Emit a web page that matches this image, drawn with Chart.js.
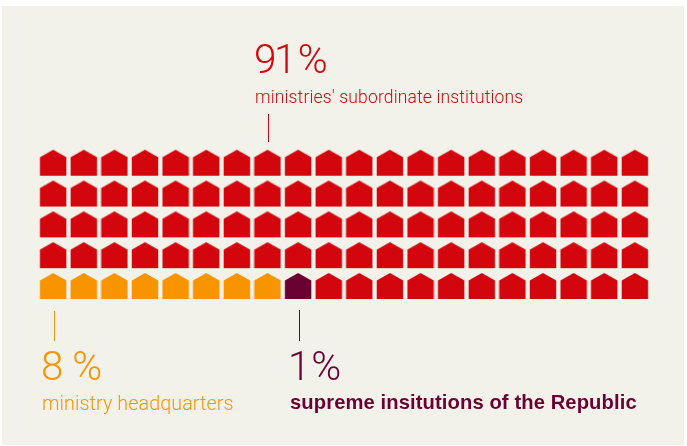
<!DOCTYPE html>
<html>
<head>
<meta charset="utf-8">
<title>Staff by type of institution</title>
<script src="https://cdn.jsdelivr.net/npm/chart.js@4/dist/chart.umd.min.js"></script>
<style>
  html, body { margin: 0; padding: 0; background: #fff; }
  #panel { position: absolute; left: 2px; top: 6px; width: 682px; height: 439px; background: #f3f2ea; }
  #wrap { position: absolute; left: 0; top: 0; width: 687px; height: 446px; }
</style>
</head>
<body>
<div id="panel"></div>
<div id="wrap"><canvas id="waffle"></canvas></div>
<script>
// Share of each institution type, in percent. One house stands for one percent.
const categories = ["ministries' subordinate institutions", "ministry headquarters", "supreme insitutions of the Republic"];
const shares = [91, 8, 1];
const shareLabels = ["91 %", "8 %", "1 %"];
const colors = ["#d2060c", "#f79400", "#6b0033"];

const COLUMNS = 20;
const ROWS = 5;
// Cells fill the bottom row first, left to right, in this category order
const fillOrder = [1, 2, 0];

// Build one set of grid cells per category
function buildCells() {
  const cells = categories.map(() => []);
  let n = 0;
  fillOrder.forEach(function (cat) {
    for (let i = 0; i < shares[cat]; i++) {
      cells[cat].push({ x: n % COLUMNS, y: Math.floor(n / COLUMNS) });
      n++;
    }
  });
  return cells;
}

// Small house icon used as the point style
function houseIcon(color) {
  const w = 26.4, h = 26, eave = 7.6;
  const c = document.createElement("canvas");
  c.width = 28;
  c.height = 28;
  const ctx = c.getContext("2d");
  ctx.translate((28 - w) / 2, (28 - h) / 2);
  ctx.fillStyle = color;
  ctx.beginPath();
  ctx.moveTo(0, eave);
  ctx.lineTo(w / 2, 0);
  ctx.lineTo(w, eave);
  ctx.lineTo(w, h);
  ctx.lineTo(0, h);
  ctx.closePath();
  ctx.fill();
  return c;
}

// Text blocks and connector lines, anchored to a grid column
const LIGHT = 'Roboto, sans-serif';
const callouts = [
  { cat: 0, col: 7, lineX: 1, lineTop: 114, lineBottom: 142, valueX: 254, valueY: 73, valueGap: "-2.5px", valueWord: "-3.5px",
    labelX: 255, labelY: 103, labelFont: "300 17.5px " + LIGHT, labelGap: "0.15px" },
  { cat: 1, col: 0, lineX: 1, lineTop: 311, lineBottom: 341, valueX: 41, valueY: 380, valueGap: "0px", valueWord: "-1px",
    labelX: 42, labelY: 410, labelFont: "300 19.7px " + LIGHT, labelGap: "0.1px" },
  { cat: 2, col: 8, lineX: 1, lineTop: 310, lineBottom: 341, valueX: 288, valueY: 380, valueGap: "0px", valueWord: "-9px",
    labelX: 290, labelY: 409, labelFont: '700 20.2px "Liberation Sans", sans-serif', labelGap: "0.1px" }
];

const calloutPlugin = {
  id: "callouts",
  afterDatasetsDraw(chart) {
    const ctx = chart.ctx;
    const xScale = chart.scales.x;
    ctx.save();
    callouts.forEach(function (c) {
      const color = colors[c.cat];
      const x = Math.round(xScale.getPixelForValue(c.col)) + 0.5 + c.lineX;
      ctx.strokeStyle = color;
      ctx.lineWidth = 1;
      ctx.beginPath();
      ctx.moveTo(x, c.lineTop);
      ctx.lineTo(x, c.lineBottom);
      ctx.stroke();

      ctx.fillStyle = color;
      ctx.textAlign = "left";
      ctx.textBaseline = "alphabetic";
      ctx.letterSpacing = c.valueGap;
      ctx.wordSpacing = c.valueWord;
      ctx.font = "300 40.5px " + LIGHT;
      ctx.fillText(shareLabels[c.cat], c.valueX, c.valueY);
      ctx.letterSpacing = c.labelGap;
      ctx.wordSpacing = "0px";
      ctx.font = c.labelFont;
      ctx.fillText(categories[c.cat], c.labelX, c.labelY);
    });
    ctx.restore();
  }
};

const cells = buildCells();

new Chart(document.getElementById("waffle"), {
  type: "scatter",
  data: {
    datasets: categories.map(function (name, i) {
      return {
        label: name,
        data: cells[i],
        pointStyle: houseIcon(colors[i]),
        clip: false
      };
    })
  },
  options: {
    responsive: true,
    maintainAspectRatio: false,
    animation: false,
    layout: { padding: { left: 53.15, right: 52.15, top: 162.7, bottom: 160 } },
    scales: {
      x: { type: "linear", min: 0, max: COLUMNS - 1, display: false },
      y: { type: "linear", min: 0, max: ROWS - 1, display: false }
    },
    plugins: {
      legend: { display: false },
      tooltip: { enabled: false }
    }
  },
  plugins: [calloutPlugin]
});
</script>
</body>
</html>
